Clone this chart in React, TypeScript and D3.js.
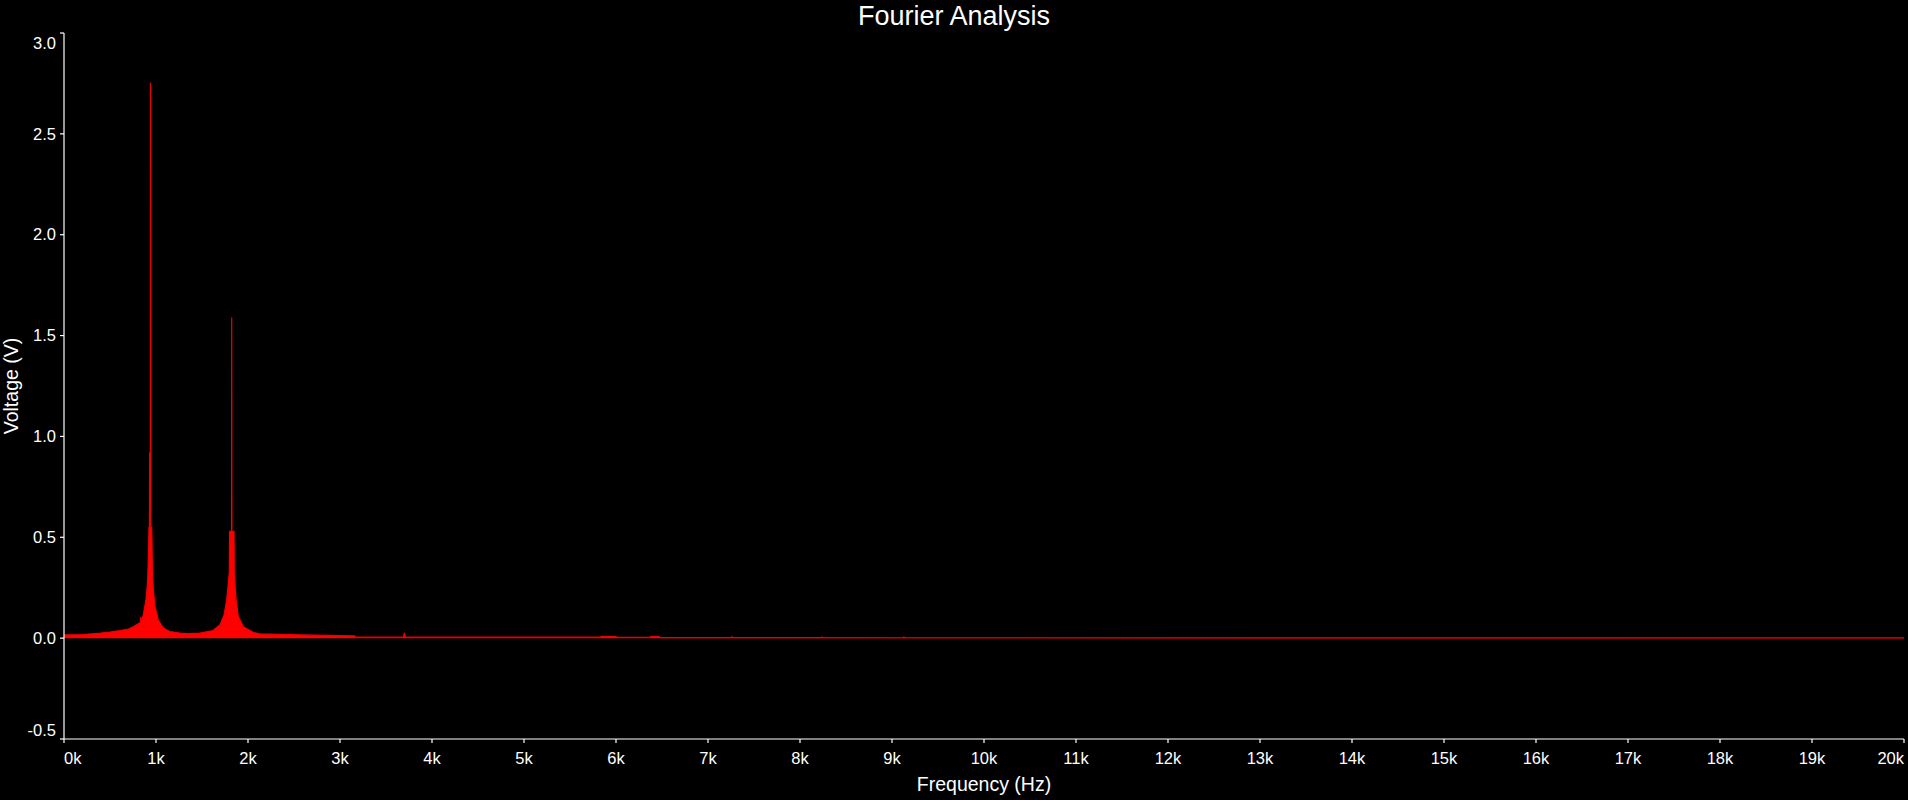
import React from "react";
import * as d3 from "d3";

const TITLE = "Fourier Analysis";
const X_TITLE = "Frequency (Hz)";
const Y_TITLE = "Voltage (V)";

// Spectrum envelope (frequency in Hz, amplitude in V)
const freqs = [
  0, 200, 400, 500, 609, 700, 753, 820, 830, 833, 836, 862, 891, 905, 912, 920,
  924, 929, 931, 933, 938, 940, 942, 944, 953, 962, 971, 989, 1025, 1080, 1150,
  1260, 1350, 1478, 1620, 1696, 1740, 1768, 1786, 1797, 1800, 1821, 1823, 1825,
  1848, 1851, 1870, 1895, 1950, 2060, 2130, 2570, 3160, 3170, 3690, 3700, 3710,
  5830, 5840, 6000, 6010, 6370, 6380, 6470, 6480, 7255, 7260, 7265, 8235, 8240,
  8245, 9125, 9130, 9135, 20000,
];
const volts = [
  0.016, 0.018, 0.025, 0.03, 0.038, 0.045, 0.056, 0.075, 0.078, 0.105, 0.08,
  0.115, 0.19, 0.26, 0.32, 0.45, 0.55, 0.55, 0.92, 0.55, 0.55, 2.753, 0.55,
  0.55, 0.55, 0.32, 0.24, 0.157, 0.09, 0.05, 0.033, 0.025, 0.022, 0.025, 0.038,
  0.066, 0.115, 0.19, 0.27, 0.33, 0.53, 0.53, 1.589, 0.53, 0.53, 0.32, 0.19,
  0.107, 0.056, 0.028, 0.021, 0.016, 0.011, 0.005, 0.005, 0.026, 0.005, 0.005,
  0.009, 0.008, 0.004, 0.004, 0.009, 0.008, 0.003, 0.003, 0.007, 0.003, 0.003,
  0.006, 0.003, 0.002, 0.006, 0.002, 0.001,
];

const xTicks = d3.range(0, 21).map((k) => k * 1000);
const yTicks = [-0.5, 0, 0.5, 1.0, 1.5, 2.0, 2.5, 3.0];

const W = 1908;
const H = 800;
const LEFT = 64;
const RIGHT = 1904;
const TOP = 33;
const BOTTOM = 739;

const FONT = "'Liberation Sans', Arial, Helvetica, sans-serif";

export default function App() {
  React.useEffect(() => {
    document.body.style.margin = "0";
    document.body.style.background = "#000";
  }, []);

  const x = d3.scaleLinear().domain([0, 20000]).range([LEFT, RIGHT]);
  const y = d3.scaleLinear().domain([-0.5, 3.0]).range([BOTTOM, TOP]);

  const pts = freqs.map((f, i) => [f, volts[i]] as [number, number]);
  const area = d3
    .area<[number, number]>()
    .x((d) => x(d[0]))
    .y0(() => y(0))
    .y1((d) => y(d[1]))(pts) as string;
  const line = d3
    .line<[number, number]>()
    .x((d) => x(d[0]))
    .y((d) => y(d[1]))(pts) as string;

  const tickFont = 16.5;

  return (
    <svg
      width={W}
      height={H}
      style={{ position: "fixed", left: 0, top: 0, background: "#000", display: "block" }}
    >
      <rect x={0} y={0} width={W} height={H} fill="#000" />
      <text
        x={W / 2}
        y={25}
        fill="#fff"
        fontFamily={FONT}
        fontSize={27}
        textAnchor="middle"
      >
        {TITLE}
      </text>

      {/* data */}
      <path d={area} fill="#ff0000" />
      <path d={line} fill="none" stroke="#ee0000" strokeWidth={1.2} />

      {/* y axis */}
      <line x1={LEFT} x2={LEFT} y1={TOP} y2={BOTTOM} stroke="#fff" strokeWidth={1.2} />
      {yTicks.map((t) => {
        const ty = y(t);
        const ly = Math.min(Math.max(ty, TOP + 10), BOTTOM - 9);
        return (
          <g key={"y" + t}>
            <line x1={LEFT - 4} x2={LEFT} y1={ty} y2={ty} stroke="#fff" strokeWidth={1.2} />
            <text
              x={56}
              y={ly}
              dy="0.35em"
              fill="#fff"
              fontFamily={FONT}
              fontSize={tickFont}
              textAnchor="end"
            >
              {t.toFixed(1)}
            </text>
          </g>
        );
      })}
      <text
        transform={`translate(18,${(TOP + BOTTOM) / 2}) rotate(-90)`}
        fill="#fff"
        fontFamily={FONT}
        fontSize={19.5}
        textAnchor="middle"
      >
        {Y_TITLE}
      </text>

      {/* x axis */}
      <line x1={LEFT} x2={RIGHT} y1={BOTTOM} y2={BOTTOM} stroke="#fff" strokeWidth={1.2} />
      {xTicks.map((t, i) => {
        const tx = x(t);
        const anchor = i === 0 ? "start" : i === xTicks.length - 1 ? "end" : "middle";
        return (
          <g key={"x" + t}>
            <line x1={tx} x2={tx} y1={BOTTOM} y2={BOTTOM + 4} stroke="#fff" strokeWidth={1.2} />
            <text
              x={tx}
              y={758}
              dy="0.35em"
              fill="#fff"
              fontFamily={FONT}
              fontSize={tickFont}
              textAnchor={anchor}
            >
              {`${t / 1000}k`}
            </text>
          </g>
        );
      })}
      <text
        x={(LEFT + RIGHT) / 2}
        y={791}
        fill="#fff"
        fontFamily={FONT}
        fontSize={19.5}
        textAnchor="middle"
      >
        {X_TITLE}
      </text>
    </svg>
  );
}
